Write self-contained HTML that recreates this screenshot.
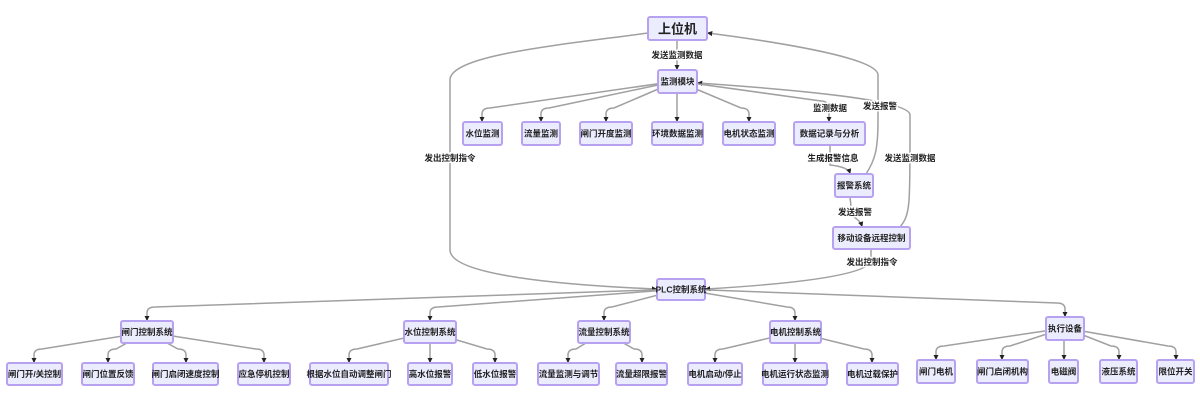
<!DOCTYPE html>
<html><head><meta charset="utf-8"><style>
html,body{margin:0;padding:0;background:#fff;}
svg{display:block;}
text{font-family:"Liberation Sans","Noto Sans CJK SC",sans-serif;font-weight:bold;font-size:8.5px;fill:#222;text-anchor:middle;dominant-baseline:central;}
.lbl{paint-order:stroke;stroke:#fff;stroke-width:3px;}
.e{fill:none;stroke:#a0a0a0;stroke-width:1.5;marker-end:url(#ah);}
.n{fill:#ECECFF;stroke:#B7A2F2;stroke-width:2;}
</style></head><body>
<svg width="1200" height="416" viewBox="0 0 1200 416" xmlns="http://www.w3.org/2000/svg">
<defs><marker id="ah" viewBox="0 0 10 10" refX="8" refY="5" markerWidth="3.5" markerHeight="3.5" orient="auto"><path d="M0,0 L10,5 L0,10 z" fill="#222"/></marker></defs>
<g>
<path class="e" d="M677 40 L677 69"/>
<path class="e" d="M648 33 C560 45 450 55 450 80 L450 250 C450 275 560 285 656 289"/>
<path class="e" d="M866 174 C875 160 878 150 878 120 L878 75 C878 60 800 45 708 33"/>
<path class="e" d="M900 227 C910 215 910 205 910 140 L910 115 C910 100 800 90 698 83"/>
<path class="e" d="M677 81 L490 108 Q482 108 482 114 L482 121"/>
<path class="e" d="M677 81 L549 108 Q541 108 541 114 L541 121"/>
<path class="e" d="M677 81 L614 108 Q606 108 606 114 L606 121"/>
<path class="e" d="M677 92 L677 121"/>
<path class="e" d="M677 81 L741 108 Q749 108 749 114 L749 121"/>
<path class="e" d="M677 81 L821 101 Q829 101 829 110 L829 121"/>
<path class="e" d="M830 145 L830 165 Q848 167 850 173"/>
<path class="e" d="M850 197 L852 216 Q860 220 862 226"/>
<path class="e" d="M871 249 L871 262 Q860 280 706 289"/>
<path class="e" d="M681 289 L155 307 Q147 307 147 313 L147 320"/>
<path class="e" d="M681 289 L438 307 Q430 307 430 313 L430 320"/>
<path class="e" d="M681 289 L612 307 Q604 307 604 313 L604 320"/>
<path class="e" d="M681 289 L787 307 Q795 307 795 313 L795 320"/>
<path class="e" d="M681 289 L1057 303 Q1065 303 1065 309 L1065 316"/>
<path class="e" d="M147 332 L42 349 Q34 349 34 355 L34 362"/>
<path class="e" d="M147 332 L116 349 Q108 349 108 355 L108 362"/>
<path class="e" d="M147 332 L178 349 Q186 349 186 355 L186 362"/>
<path class="e" d="M147 332 L256 349 Q264 349 264 355 L264 362"/>
<path class="e" d="M430 332 L357 349 Q349 349 349 355 L349 362"/>
<path class="e" d="M430 343 L430 362"/>
<path class="e" d="M430 332 L487 349 Q495 349 495 355 L495 362"/>
<path class="e" d="M604 332 L576 349 Q568 349 568 355 L568 362"/>
<path class="e" d="M604 332 L634 349 Q642 349 642 355 L642 362"/>
<path class="e" d="M795 332 L723 349 Q715 349 715 355 L715 362"/>
<path class="e" d="M795 343 L795 362"/>
<path class="e" d="M795 332 L864 349 Q872 349 872 355 L872 362"/>
<path class="e" d="M1065 328 L944 346 Q936 346 936 352 L936 359"/>
<path class="e" d="M1065 328 L1010 346 Q1002 346 1002 352 L1002 359"/>
<path class="e" d="M1064 340 L1064 359"/>
<path class="e" d="M1065 328 L1111 346 Q1119 346 1119 352 L1119 359"/>
<path class="e" d="M1065 328 L1168 346 Q1176 346 1176 352 L1176 359"/>
</g>
<g>
<text class="lbl" x="677" y="55">发送监测数据</text>
<text class="lbl" x="450" y="158">发出控制指令</text>
<text class="lbl" x="830" y="108">监测数据</text>
<text class="lbl" x="880" y="106">发送报警</text>
<text class="lbl" x="833" y="158">生成报警信息</text>
<text class="lbl" x="910" y="158">发送监测数据</text>
<text class="lbl" x="855" y="212">发送报警</text>
<text class="lbl" x="872" y="262">发出控制指令</text>
</g>
<g>
<rect class="n" x="648" y="17" width="59" height="23" rx="2"/><text x="677.5" y="29" style="font-size:13px">上位机</text>
<rect class="n" x="658" y="70" width="39" height="23" rx="2"/><text x="677.5" y="81.5">监测模块</text>
<rect class="n" x="463" y="122" width="39" height="23" rx="2"/><text x="482.5" y="133.5">水位监测</text>
<rect class="n" x="522" y="122" width="38" height="23" rx="2"/><text x="541" y="133.5">流量监测</text>
<rect class="n" x="580" y="122" width="52" height="23" rx="2"/><text x="606" y="133.5">闸门开度监测</text>
<rect class="n" x="652" y="122" width="51" height="23" rx="2"/><text x="677.5" y="133.5">环境数据监测</text>
<rect class="n" x="723" y="122" width="52" height="23" rx="2"/><text x="749" y="133.5">电机状态监测</text>
<rect class="n" x="794" y="122" width="71" height="23" rx="2"/><text x="829.5" y="133.5">数据记录与分析</text>
<rect class="n" x="835" y="174" width="38" height="23" rx="2"/><text x="854" y="185.5">报警系统</text>
<rect class="n" x="833" y="227" width="77" height="22" rx="2"/><text x="871.5" y="238">移动设备远程控制</text>
<rect class="n" x="657" y="279" width="48" height="21" rx="2"/><text x="681" y="289.5">PLC控制系统</text>
<rect class="n" x="121" y="321" width="52" height="22" rx="2"/><text x="147" y="332">闸门控制系统</text>
<rect class="n" x="404" y="321" width="52" height="22" rx="2"/><text x="430" y="332">水位控制系统</text>
<rect class="n" x="578" y="321" width="52" height="22" rx="2"/><text x="604" y="332">流量控制系统</text>
<rect class="n" x="770" y="321" width="51" height="22" rx="2"/><text x="795.5" y="332">电机控制系统</text>
<rect class="n" x="1046" y="317" width="38" height="23" rx="2"/><text x="1065" y="328.5">执行设备</text>
<rect class="n" x="7" y="363" width="55" height="22" rx="2"/><text x="34.5" y="374">闸门开/关控制</text>
<rect class="n" x="82" y="363" width="52" height="22" rx="2"/><text x="108" y="374">闸门位置反馈</text>
<rect class="n" x="153" y="363" width="65" height="22" rx="2"/><text x="185.5" y="374">闸门启闭速度控制</text>
<rect class="n" x="238" y="363" width="52" height="22" rx="2"/><text x="264" y="374">应急停机控制</text>
<rect class="n" x="310" y="363" width="78" height="22" rx="2"/><text x="349" y="374">根据水位自动调整闸门</text>
<rect class="n" x="408" y="363" width="44" height="22" rx="2"/><text x="430" y="374">高水位报警</text>
<rect class="n" x="473" y="363" width="44" height="22" rx="2"/><text x="495" y="374">低水位报警</text>
<rect class="n" x="538" y="363" width="61" height="22" rx="2"/><text x="568.5" y="374">流量监测与调节</text>
<rect class="n" x="616" y="363" width="51" height="22" rx="2"/><text x="641.5" y="374">流量超限报警</text>
<rect class="n" x="688" y="363" width="54" height="22" rx="2"/><text x="715" y="374">电机启动/停止</text>
<rect class="n" x="763" y="363" width="64" height="22" rx="2"/><text x="795" y="374">电机运行状态监测</text>
<rect class="n" x="847" y="363" width="51" height="22" rx="2"/><text x="872.5" y="374">电机过载保护</text>
<rect class="n" x="917" y="360" width="38" height="23" rx="2"/><text x="936" y="371.5">闸门电机</text>
<rect class="n" x="977" y="360" width="51" height="23" rx="2"/><text x="1002.5" y="371.5">闸门启闭机构</text>
<rect class="n" x="1049" y="360" width="29" height="23" rx="2"/><text x="1063.5" y="371.5">电磁阀</text>
<rect class="n" x="1100" y="360" width="37" height="23" rx="2"/><text x="1118.5" y="371.5">液压系统</text>
<rect class="n" x="1157" y="360" width="37" height="23" rx="2"/><text x="1175.5" y="371.5">限位开关</text>
</g>
</svg>
</body></html>
